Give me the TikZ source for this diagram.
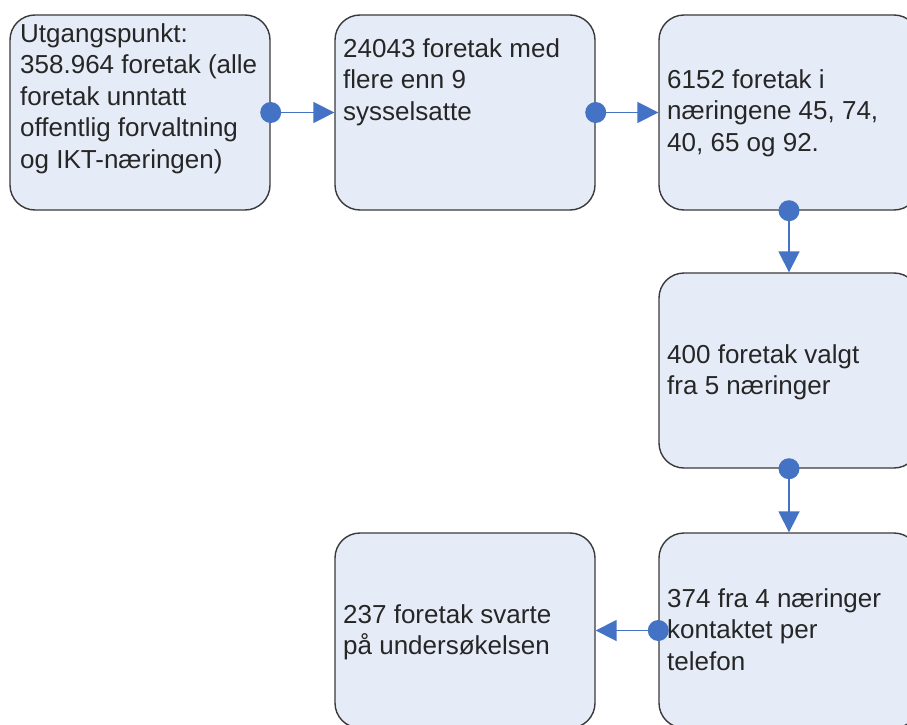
\documentclass[tikz,border=0pt]{standalone}
\usepackage{fontspec}
\setmainfont{Liberation Sans}
\usetikzlibrary{arrows.meta}
\definecolor{boxfill}{HTML}{E6ECF7}
\definecolor{boxline}{HTML}{3A3A3A}
\definecolor{conncol}{HTML}{4472C4}
\newcommand{\boxfont}{\fontsize{26}{31.5}\selectfont}
\begin{document}
\begin{tikzpicture}[x=1pt,y=-1pt,
  box/.style={draw=boxline, fill=boxfill, line width=1.4pt, rounded corners=25pt,
    minimum width=260pt, minimum height=195pt, inner sep=0pt},
  txt/.style={anchor=north west, inner sep=0pt, align=left, font=\boxfont, text=black!85},
  conn/.style={draw=conncol, line width=1.8pt, -{Triangle[length=21pt,width=21pt]}},
  dot/.style={fill=conncol}]
\useasboundingbox (0,0) rectangle (907,725);
\clip (0,0) rectangle (907,725);
\fill[white] (0,0) rectangle (907,725);
% boxes
\node[box] (b1) at (140,112.5) {};
\node[box] (b2) at (465,112.5) {};
\node[box] (b3) at (789,112.5) {};
\node[box] (b4) at (789,370.5) {};
\node[box] (b5) at (789,630.5) {};
\node[box] (b6) at (465,630.5) {};
% texts
\node[txt] (t1) at (20,23) {Utgangspunkt:\\358.964 foretak (alle\\foretak unntatt\\offentlig forvaltning\\og IKT-næringen)};
\node[txt] (t2) at (343,38) {24043 foretak med\\flere enn 9\\sysselsatte};
\node[txt] (t3) at (667,69) {6152 foretak i\\næringene 45, 74,\\40, 65 og 92.};
\node[txt] (t4) at (667,344) {400 foretak valgt\\fra 5 næringer};
\node[txt] (t5) at (667,588) {374 fra 4 næringer\\kontaktet per\\telefon};
\node[txt] (t6) at (343,604) {237 foretak svarte\\på undersøkelsen};
% connectors
\draw[conn] (b1.east) -- (b2.west);
\draw[conn] (b2.east) -- (b3.west);
\draw[conn] (b3.south) -- (b4.north);
\draw[conn] (b4.south) -- (b5.north);
\draw[conn] (b5.west) -- (b6.east);
\fill[dot] (b1.east) circle (10.5pt);
\fill[dot] (b2.east) circle (10.5pt);
\fill[dot] (b3.south) circle (10.5pt);
\fill[dot] (b4.south) circle (10.5pt);
\fill[dot] (b5.west) circle (10.5pt);
\end{tikzpicture}
\end{document}
